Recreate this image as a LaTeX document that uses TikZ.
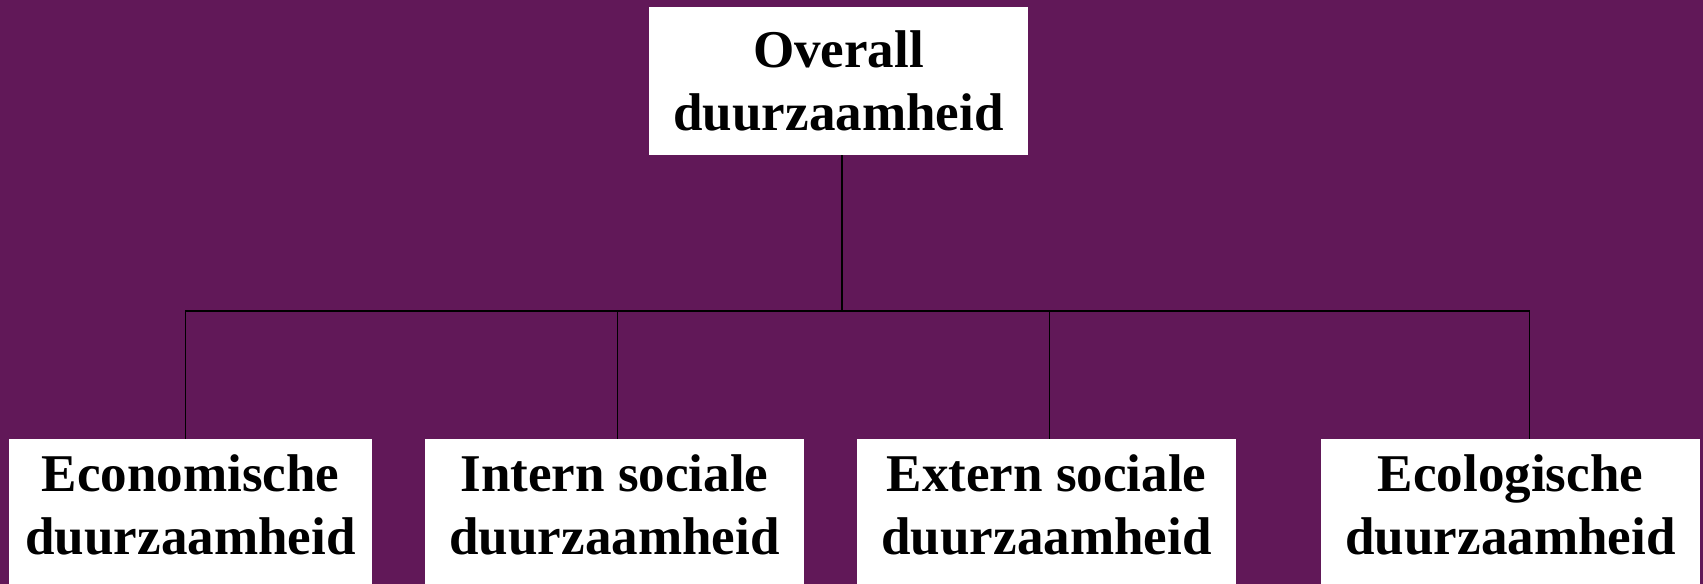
\documentclass[tikz,border=0pt]{standalone}
\usepackage{fontspec}
\setmainfont{Liberation Serif}
\usepackage{tikz}
\definecolor{bgpurple}{RGB}{97,24,88}

\tikzset{
  dbox/.style={rectangle, fill=white, align=center, inner sep=0pt,
    font=\bfseries\fontsize{30.2}{35.9}\selectfont,
    minimum width=7.58cm, minimum height=2.96cm},
  lowbox/.style={dbox, text depth=0.32cm},
  tree/.style={black, line width=0.85pt}
}

\begin{document}
\begin{tikzpicture}[x=0.02cm, y=-0.02cm]

\clip (0,0) rectangle (1703,584);
\fill[bgpurple] (0,0) rectangle (1703,584);

\node[dbox] (D0) at (838.5,81) {Overall\\duurzaamheid};
	\node[lowbox, minimum width=7.26cm] (D1) at (190.5,513) {Economische\\duurzaamheid};
	\node[lowbox] (D2) at (614.5,513) {Intern sociale\\duurzaamheid};
	\node[lowbox] (D3) at (1046.5,513) {Extern sociale\\duurzaamheid};
	\node[lowbox] (D4) at (1510.5,513) {Ecologische\\duurzaamheid};

\coordinate (bus) at (842,311);

\draw[tree] (D0.south -| bus) -- (bus);
\draw[tree] ([xshift=-0.1cm]D1.north) |- (bus);
\draw[tree] ([xshift=0.06cm]D2.north) |- (bus);
\draw[tree] ([xshift=0.06cm]D3.north) |- (bus);
\draw[tree] ([xshift=0.38cm]D4.north) |- (bus);

\end{tikzpicture}
\end{document}
